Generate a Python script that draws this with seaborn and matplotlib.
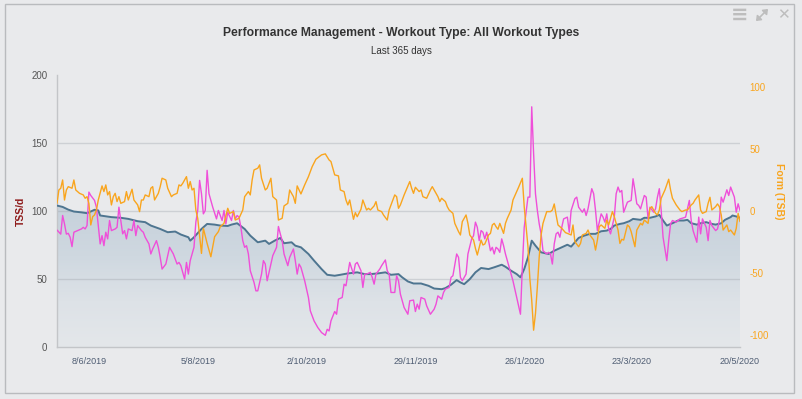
import numpy as np
import pandas as pd
import matplotlib
matplotlib.use("Agg")
import matplotlib.pyplot as plt
from matplotlib.colors import LinearSegmentedColormap, Normalize
from matplotlib.patches import Rectangle, FancyArrowPatch
import seaborn as sns

# ── Data (day offset from 21/5/2019) ─────────────────────────────────────────
START = pd.Timestamp("2019-05-21")

# Fitness (CTL), left axis
ctl_day = [1, 4, 7, 10, 14, 17, 21, 23, 24, 30,
           35, 39, 44, 48, 51, 56, 60, 64, 67, 71,
           72, 74, 78, 81, 85, 88, 92, 94, 97, 101,
           104, 108, 112, 114, 117, 120, 122, 126, 128, 131,
           135, 138, 142, 145, 149, 152, 156, 161, 165, 168,
           172, 176, 179, 183, 185, 188, 191, 195, 199, 202,
           206, 208, 211, 214, 216, 218, 221, 224, 227, 231,
           234, 238, 240, 243, 246, 248, 250, 252, 254, 256,
           259, 263, 266, 270, 273, 275, 277, 279, 282, 285,
           288, 291, 294, 296, 298, 301, 303, 306, 308, 312,
           314, 317, 320, 322, 324, 326, 328, 329, 332, 335,
           337, 339, 342, 344, 347, 350, 352, 355, 357, 360,
           361, 363, 365]
ctl_tss = [104, 103, 101, 99.6, 99, 98.4, 100.9, 100.4, 96.7, 95.5,
           95, 94.2, 92.5, 91.8, 89.3, 86.8, 84.4, 84.9, 82.7, 80.7,
           78.2, 80.7, 86.8, 90.5, 90, 89.3, 89, 90, 91, 86.8,
           81.9, 77, 78.2, 75.8, 78.2, 80.2, 76.3, 77, 74.5, 73.3,
           68.4, 63.5, 57.3, 53.1, 52.4, 53.1, 54.1, 54.9, 53.6, 53.6,
           54.1, 54.9, 53.1, 53.6, 51.2, 48.2, 46.7, 46.7, 45, 43,
           42.5, 43.3, 45.8, 49.2, 47.5, 46.2, 49.9, 54.9, 58.1, 57.3,
           58.6, 60.5, 59, 56.1, 53.6, 51.2, 57.3, 65.9, 78.2, 74.5,
           69.6, 68.4, 70.8, 73.3, 75.2, 73.8, 77, 80.2, 81.9, 83.2,
           83.2, 85.1, 85.6, 86.8, 89.3, 90.5, 91, 92.5, 94.2, 93.5,
           95, 95, 96, 97.2, 93, 89.3, 90.5, 91, 93, 93,
           93.5, 91, 90, 91, 91.8, 90.5, 90, 91, 93.5, 95.5,
           96.7, 96, 95]

# Fatigue (ATL), left axis
atl_day = [1, 3, 4, 5, 6, 7, 8, 9, 10, 12,
           14, 15, 16, 17, 18, 19, 21, 22, 23, 24,
           25, 26, 27, 28, 29, 30, 32, 33, 34, 36,
           37, 38, 39, 41, 42, 43, 44, 46, 47, 48,
           50, 51, 52, 54, 55, 56, 57, 59, 61, 62,
           63, 65, 66, 67, 69, 70, 71, 72, 73, 74,
           75, 76, 77, 78, 79, 80, 81, 82, 84, 86,
           87, 89, 90, 91, 92, 94, 95, 96, 97, 98,
           99, 100, 101, 102, 103, 104, 106, 107, 108, 110,
           111, 112, 113, 115, 116, 118, 119, 120, 121, 122,
           124, 125, 127, 128, 129, 130, 131, 133, 135, 136,
           138, 140, 142, 144, 145, 146, 147, 149, 150, 151,
           153, 154, 155, 156, 157, 159, 160, 161, 163, 164,
           165, 166, 168, 169, 170, 171, 173, 174, 176, 177,
           178, 179, 181, 182, 183, 184, 186, 188, 189, 191,
           192, 193, 194, 195, 197, 198, 200, 202, 203, 204,
           206, 207, 208, 210, 211, 212, 214, 215, 216, 217,
           219, 220, 222, 223, 224, 225, 226, 227, 228, 229,
           230, 231, 232, 233, 234, 235, 236, 237, 238, 239,
           240, 241, 242, 244, 246, 248, 249, 250, 252, 253,
           254, 255, 256, 257, 258, 259, 260, 262, 263, 264,
           265, 266, 267, 268, 269, 270, 271, 273, 274, 275,
           277, 278, 279, 281, 282, 283, 284, 286, 287, 288,
           289, 291, 292, 293, 294, 295, 296, 298, 299, 300,
           301, 302, 303, 305, 307, 308, 309, 310, 311, 312,
           314, 315, 316, 317, 319, 320, 321, 322, 323, 324,
           326, 327, 328, 329, 331, 333, 335, 336, 338, 339,
           340, 342, 343, 344, 345, 347, 348, 349, 350, 352,
           353, 354, 355, 356, 358, 359, 360, 362, 363, 364,
           365]
atl_tss = [86, 83, 96.7, 90.5, 83, 83.6, 80.7, 73.8, 84.4, 85.6,
           86.8, 88, 86.8, 89.3, 113.9, 111.4, 107.8, 102.8, 89.3, 75.8,
           81.9, 74.5, 84.4, 79.5, 93, 85.6, 86.8, 88, 102.8, 83.2,
           85.6, 79.5, 86.8, 85.6, 93, 81.9, 89.3, 85.6, 84.4, 80.7,
           75.8, 68.4, 72.1, 78.2, 73.3, 65.9, 57.3, 61, 73.3, 70.8,
           68.4, 61, 62.2, 59.8, 50, 62.2, 53.6, 63.5, 68.4, 73.3,
           91.8, 100.4, 122.5, 112.7, 97.9, 100.4, 129.9, 112.7, 102.8, 94.2,
           100.4, 93, 100.4, 90.5, 99.1, 93, 100.4, 94.2, 96.7, 95.5,
           88, 78.2, 73.3, 74.5, 68.4, 56.1, 47.5, 41.3, 41.3, 53.6,
           63.5, 61, 48.7, 61, 67.2, 73.3, 88.6, 83.2, 78.2, 68.4,
           59.8, 65.9, 72.1, 63.5, 53.6, 61, 58.6, 48.7, 36.4, 26.6,
           19.2, 14.3, 10.6, 8.6, 13, 11.8, 19.2, 26.1, 24.1, 35.2,
           36.4, 46.2, 45, 53.6, 62.2, 53.6, 61, 62.2, 56.1, 43.8,
           53.6, 53.6, 54.9, 51.2, 46.2, 53.6, 57.3, 59.8, 64, 56.1,
           53.6, 40.1, 40.1, 52.4, 48.7, 38.9, 29, 24.1, 34, 34.5,
           26.1, 31.5, 27.8, 36.4, 35.2, 30.3, 24.1, 27.8, 31.5, 37.6,
           35.2, 40.1, 42.6, 43.8, 51.2, 52.4, 68.4, 65.9, 51.2, 48.7,
           53.6, 68.4, 79.5, 81.9, 91.8, 88, 78.2, 85.6, 84.4, 79.5,
           84.4, 78.2, 70.8, 73.3, 68.4, 73.3, 72.1, 69.6, 79.5, 74.5,
           68.4, 63.5, 58.6, 48.7, 36.4, 24.1, 58.6, 88, 110.2, 110.2,
           176.6, 142.2, 112.7, 100.4, 90.5, 83.2, 70.8, 68.4, 69.6, 68.4,
           61, 75.8, 83.2, 84.4, 80.7, 88, 94.2, 95.5, 84.4, 100.4,
           109, 110.2, 102.8, 99.1, 101.6, 96.7, 101.6, 116.4, 112.7, 100.4,
           85.6, 97.9, 95.5, 91.8, 97.9, 86.8, 83.2, 95.5, 112.7, 117.6,
           113.9, 115.1, 99.1, 106.5, 107.8, 123.7, 115.1, 105.3, 104.1, 101.6,
           111.4, 110.2, 94.2, 102.8, 99.1, 101.6, 110.2, 116.4, 100.4, 80.7,
           63.5, 78.2, 90.5, 93, 91.8, 94.2, 95, 95.5, 107.8, 93,
           85.6, 77, 95.5, 83.2, 94.2, 88, 78.2, 93, 89.3, 85.6,
           86.8, 93, 110.2, 106.5, 115.6, 111.4, 117.6, 110.2, 99.1, 105.3,
           100.4]

# Form (TSB), right axis
tsb_day = [1, 2, 3, 4, 5, 6, 7, 9, 10, 11,
           13, 15, 16, 17, 18, 19, 20, 21, 22, 23,
           25, 26, 27, 28, 29, 30, 31, 32, 33, 34,
           35, 37, 38, 39, 41, 42, 44, 45, 46, 47,
           48, 50, 51, 52, 53, 55, 56, 57, 59, 60,
           62, 63, 65, 66, 67, 68, 70, 71, 72, 73,
           74, 75, 76, 78, 79, 81, 83, 85, 87, 88,
           90, 92, 93, 95, 96, 98, 100, 101, 103, 104,
           105, 106, 108, 109, 110, 112, 113, 115, 116, 118,
           119, 121, 122, 124, 125, 127, 128, 129, 131, 133,
           135, 137, 139, 142, 144, 146, 147, 149, 151, 152,
           154, 155, 156, 157, 159, 160, 161, 163, 164, 166,
           167, 168, 170, 171, 172, 174, 175, 177, 178, 180,
           181, 182, 183, 184, 186, 188, 189, 190, 191, 192,
           194, 195, 196, 198, 200, 201, 202, 204, 205, 206,
           208, 209, 210, 212, 213, 215, 216, 217, 219, 220,
           221, 223, 224, 225, 227, 228, 229, 231, 232, 233,
           234, 235, 236, 237, 239, 240, 241, 243, 244, 247,
           249, 250, 252, 253, 254, 255, 256, 257, 258, 259,
           260, 262, 264, 265, 266, 267, 268, 270, 272, 273,
           275, 276, 277, 279, 280, 281, 283, 284, 285, 287,
           288, 289, 290, 291, 293, 294, 295, 297, 298, 300,
           301, 302, 303, 305, 306, 307, 309, 310, 312, 313,
           314, 316, 317, 318, 320, 321, 322, 323, 325, 327,
           328, 329, 331, 333, 334, 336, 337, 339, 340, 341,
           343, 344, 345, 347, 348, 349, 350, 352, 353, 354,
           355, 356, 358, 359, 360, 362, 363, 364, 365]
tsb_val = [6.2, 17, 18.4, 25.1, 8.9, 17, 19.7, 18.4, 25.1, 17,
           14.3, 13, 10.3, 11.6, 6.2, -11.3, -4.6, -3.2, 0.8, 8.9,
           20.3, 15.7, 21.1, 13, 15.7, 4.9, 11.6, 14.3, 7.6, 11.6,
           6.2, 7.6, 15.7, 8.9, 17.6, 8.9, 4.9, -0.5, 8.9, 8.9,
           13, 11.6, 18.4, 19.7, 8.9, 14.3, 19.7, 26.5, 25.1, 18.4,
           11.6, 13, 14.3, 21.1, 20.3, 22.4, 27.8, 18.4, 23.8, 17,
           18.4, 0.8, -5.9, -34.3, -14, -26.2, -37, -20.8, -16.7, -12.7,
           -10, 2.2, -1.9, -0.5, -7.3, -5.9, 0.8, 11.6, 15.7, 13,
           25.1, 33.2, 34.6, 37.3, 26.5, 17, 18.4, 26.5, 11.6, 8.9,
           -7.3, -5.9, 4.1, 6.2, 17, 11.6, 6.2, 20.3, 13.8, 21.1,
           27.8, 35.9, 41.9, 45.4, 46.2, 41.3, 40, 29.2, 28.4, 17,
           15.7, 8.9, 4.9, 8.9, -6.7, -1.3, -4.6, 1.4, 8.9, 0.8,
           2.2, 0.8, 4.1, 7.6, 0.8, -0.5, -3.2, -7.3, 0.8, 8.9,
           13, 11.6, 2.2, 4.9, 13, 20.3, 23.8, 18.4, 14.3, 19.2,
           15.7, 17, 11.6, 10.3, 17, 19.7, 17, 11.6, 7.6, 10.3,
           7.6, 3.5, 0.8, -1.9, -10, -16.7, -19.4, -8.6, -3.2, -10,
           -19.4, -23.5, -30.2, -35.6, -23.5, -27.5, -26.7, -19.4, -18.1, -11.3,
           -10, -12.7, -14.8, -10, -18.1, -10, -5.9, 0.8, 8.9, 19.2,
           26.5, 3.5, -28.9, -54.6, -72.1, -96.4, -82.9, -61.3, -37, -19.4,
           -10, -0.5, -0.5, 0.8, 5.7, -3.2, -11.3, -14, -17.5, -18.1,
           -19.4, -11.3, -24.8, -28.9, -26.2, -19.4, -18.1, -15.4, -19.4, -23.5,
           -31.6, -23.5, -12.7, -11.3, -14, -7.3, -11.3, -0.5, -4.6, -15.4,
           -26.2, -22.9, -23.5, -11.3, -12.7, -16.7, -28.9, -15.4, -10, -11.3,
           -7.3, -10, 2.2, 3.5, -1.9, -3.2, 0.8, 10.3, 17, 25.7,
           17, 10.3, 4.9, 0.8, -0.5, 0.8, 0.8, 4.9, 6.2, 8.9,
           13, 0.8, -1.9, -0.5, 6.2, 11.1, 0.8, 3.5, 5.7, 3.5,
           -3.2, -15.4, -11.3, -16.7, -15.4, -19.4, -14, -1.9, -8.6]

tick_dates = ["2019-06-08", "2019-08-05", "2019-10-02", "2019-11-29",
              "2020-01-26", "2020-03-23", "2020-05-20"]
tick_labels = ["8/6/2019", "5/8/2019", "2/10/2019", "29/11/2019",
               "26/1/2020", "23/3/2020", "20/5/2020"]
left_ticks = [0, 50, 100, 150, 200]
right_ticks = [-100, -50, 0, 50, 100]

assert len(ctl_day) == len(ctl_tss)
assert len(atl_day) == len(atl_tss)
assert len(tsb_day) == len(tsb_val)

# ── Style ────────────────────────────────────────────────────────────────────
BG = "#e9eaec"
CTL_LINE = "#4e7590"
ATL_COL = "#ef4fd9"
TSB_COL = "#f9a51e"
ICON = "#bdbdbd"

sns.set_theme(style="white")
plt.rcParams["font.family"] = ["Liberation Sans", "DejaVu Sans"]
plt.rcParams["axes.unicode_minus"] = False


def to_dates(days):
    return START + pd.to_timedelta(days, unit="D")


ctl_df = pd.DataFrame({"date": to_dates(ctl_day), "tss": ctl_tss})
atl_df = pd.DataFrame({"date": to_dates(atl_day), "tss": atl_tss})
tsb_df = pd.DataFrame({"date": to_dates(tsb_day), "tsb": tsb_val})

W, H = 802, 399
fig = plt.figure(figsize=(W / 100, H / 100), dpi=100, facecolor=BG)
ax = fig.add_axes([57 / W, 1 - 347 / H, (740 - 57) / W, (347 - 75) / H])
ax.set_facecolor(BG)

# gradient-filled fitness area
poly = ax.fill_between(ctl_df["date"], ctl_df["tss"], 0,
                       facecolor="none", edgecolor="none")
x0 = matplotlib.dates.date2num(ctl_df["date"].iloc[0])
x1 = matplotlib.dates.date2num(ctl_df["date"].iloc[-1])
cmap = LinearSegmentedColormap.from_list(
    "pmc", ["#e4e7ea", "#dde2e7", "#cfd8e0", "#c7d2dc"])
grad = np.linspace(200, 0, 400).reshape(-1, 1)
img = ax.imshow(grad, cmap=cmap, norm=Normalize(0, 100), aspect="auto",
                extent=[x0, x1, 0, 200], origin="upper", zorder=1)
img.set_clip_path(poly.get_paths()[0], transform=ax.transData)

for g in [50, 100, 150]:
    ax.axhline(g, color="#9aa0a8", alpha=0.35, lw=1, zorder=1.5)

sns.lineplot(data=ctl_df, x="date", y="tss", ax=ax, color=CTL_LINE,
             linewidth=1.4, zorder=3)
sns.lineplot(data=atl_df, x="date", y="tss", ax=ax, color=ATL_COL,
             linewidth=1.0, zorder=4)

ax2 = ax.twinx()
sns.lineplot(data=tsb_df, x="date", y="tsb", ax=ax2, color=TSB_COL,
             linewidth=1.0, zorder=3)

# axes
ax.set_xlim(pd.Timestamp("2019-05-22"), pd.Timestamp("2020-05-20"))
ax.set_ylim(0, 200)
ax2.set_ylim(-110, 110)
ax.set_xticks(pd.to_datetime(tick_dates))
ax.set_xticklabels(tick_labels)
ax.set_yticks(left_ticks)
ax2.set_yticks(right_ticks)
ax.tick_params(axis="x", length=0, pad=7.5, labelsize=6.5, labelcolor="#4f5d73")
ax.tick_params(axis="y", length=0, pad=7, labelsize=7, labelcolor="#555555")
ax2.tick_params(axis="y", length=0, pad=7, labelsize=7, labelcolor=TSB_COL)
ax.grid(False)
ax2.grid(False)

for s in ["top", "right"]:
    ax.spines[s].set_visible(False)
for s in ax2.spines.values():
    s.set_visible(False)
ax.spines["left"].set_color("#c3c5c8")
ax.spines["bottom"].set_color("#c3c5c8")
ax.spines["left"].set_linewidth(1)
ax.spines["bottom"].set_linewidth(1)

ax.set_xlabel("")
ax.set_ylabel("TSS/d", color="#8e1a1a", fontweight="bold", fontsize=7.5,
              va="center")
ax.yaxis.set_label_coords((21 - 57) / 683, 0.5)
ax2.set_ylabel("Form (TSB)", color=TSB_COL, fontweight="bold", fontsize=7.5,
               rotation=270, va="center")
ax2.yaxis.set_label_coords((779 - 57) / 683, (347 - 191) / 272)

# titles
fig.text(0.5, 1 - 33 / H, "Performance Management - Workout Type: All Workout Types",
         ha="center", va="center", fontsize=8.7, fontweight="bold", color="#333333")
fig.text(0.5, 1 - 51 / H, "Last 365 days", ha="center", va="center",
         fontsize=7, color="#333333")

# panel frame and toolbar icons (menu, expand, close)
fig.patches.append(Rectangle((5 / W, 1 - 393 / H), (794 - 5) / W, (393 - 4) / H,
                             transform=fig.transFigure, fill=False,
                             edgecolor="#b9bbbe", linewidth=1))
fig.text(740 / W, 1 - 15 / H, "≡", ha="center", va="center", fontsize=15,
         fontweight="bold", color=ICON, family=["DejaVu Sans"])
fig.patches.append(FancyArrowPatch((756 / W, 1 - 21 / H), (768 / W, 1 - 9 / H),
                                   transform=fig.transFigure,
                                   arrowstyle="<|-|>,head_length=2.5,head_width=2",
                                   color=ICON, linewidth=1.2,
                                   shrinkA=0, shrinkB=0))
fig.text(783 / W, 1 - 15 / H, "✕", ha="center", va="center", fontsize=11,
         color=ICON, family=["DejaVu Sans"])

fig.savefig("out.png", dpi=100, facecolor=BG)
